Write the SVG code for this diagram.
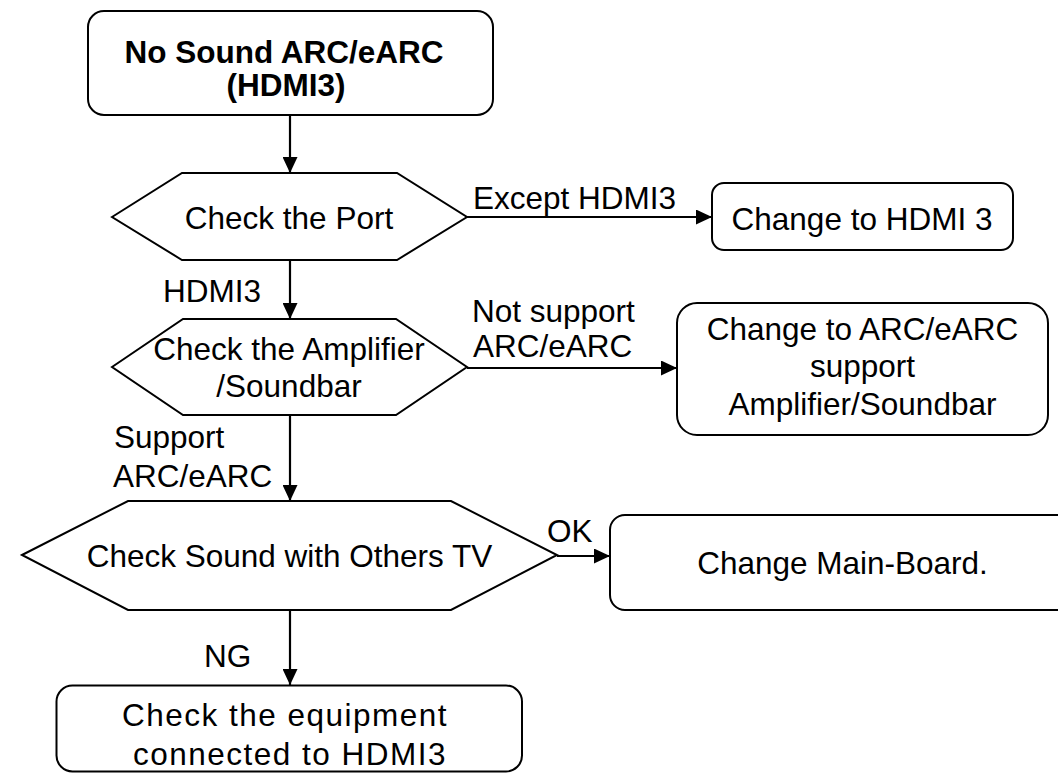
<svg xmlns="http://www.w3.org/2000/svg" width="1058" height="774" viewBox="0 0 1058 774">
<style>
text{font-family:"Liberation Sans",Arial,sans-serif;font-size:31.5px;fill:#000}
.c{text-anchor:middle}
.b{font-weight:bold}
.sp{letter-spacing:1.5px}
.shape{fill:#fff;stroke:#000;stroke-width:2}
.edge{fill:none;stroke:#000;stroke-width:2.2;marker-end:url(#ah)}
</style>
<defs>
<marker id="ah" markerUnits="userSpaceOnUse" markerWidth="17" markerHeight="15" refX="16" refY="7.5" orient="auto">
<path d="M0,0 L16,7.5 L0,15 Z" fill="#000"/>
</marker>
</defs>
<rect width="1058" height="774" fill="#fff"/>
<g id="connectors">
<path class="edge" d="M290,115 V173"/>
<path class="edge" d="M467,217 H712"/>
<path class="edge" d="M290,260 V319"/>
<path class="edge" d="M467,368 H677"/>
<path class="edge" d="M290,415 V501"/>
<path class="edge" d="M557,556 H610"/>
<path class="edge" d="M290,610 V685"/>
<text x="473" y="209">Except HDMI3</text>
<text x="163" y="302">HDMI3</text>
<text x="472" y="322">Not support</text>
<text x="473" y="357">ARC/eARC</text>
<text x="114" y="448">Support</text>
<text x="113" y="487">ARC/eARC</text>
<text x="547" y="542">OK</text>
<text x="204" y="667">NG</text>
</g>
<g id="start">
<rect class="shape" x="88" y="11" width="405" height="104" rx="16"/>
<text class="c b" x="284" y="63">No Sound ARC/eARC</text>
<text class="c b" x="286" y="96">(HDMI3)</text>
</g>
<g id="checkPort">
<polygon class="shape" points="112,217 182,173 397,173 467,217 397,260 182,260"/>
<text class="c" x="289" y="229">Check the Port</text>
</g>
<g id="changeHdmi3">
<rect class="shape" x="712" y="183" width="301" height="67" rx="12"/>
<text class="c" x="862" y="230">Change to HDMI 3</text>
</g>
<g id="checkAmp">
<polygon class="shape" points="112,367 183,319 396,319 467,367 396,415 183,415"/>
<text class="c" x="289" y="360">Check the Amplifier</text>
<text class="c" x="289" y="397">/Soundbar</text>
</g>
<g id="changeAmp">
<rect class="shape" x="677" y="303" width="371" height="132" rx="20"/>
<text class="c" x="862.5" y="340">Change to ARC/eARC</text>
<text class="c" x="862.5" y="377">support</text>
<text class="c" x="862.5" y="415">Amplifier/Soundbar</text>
</g>
<g id="checkSound">
<polygon class="shape" points="22,555 128,501 451,501 557,555 451,610 128,610"/>
<text class="c" x="289.5" y="567">Check Sound with Others TV</text>
</g>
<g id="changeMainBoard">
<rect class="shape" x="610" y="515" width="470" height="95" rx="15"/>
<text class="c" x="842.5" y="574">Change Main-Board.</text>
</g>
<g id="checkEquipment">
<rect class="shape" x="56.5" y="685.5" width="465.5" height="86" rx="16"/>
<text class="c sp" x="285" y="726">Check the equipment</text>
<text class="c sp" x="290" y="765">connected to HDMI3</text>
</g>
</svg>
